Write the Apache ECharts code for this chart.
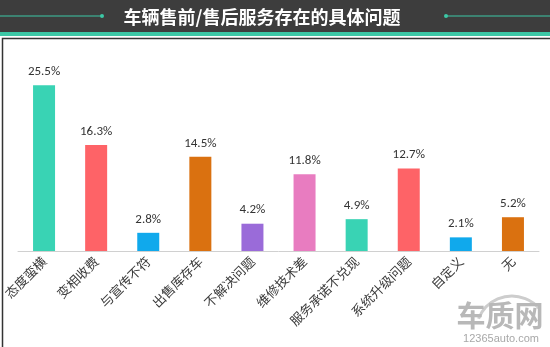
<!DOCTYPE html>
<html>
<head>
<meta charset="utf-8">
<script src="https://cdn.jsdelivr.net/npm/echarts@6/dist/echarts.min.js"></script>
<style>
  html, body { margin: 0; padding: 0; background: #fff; }
  #chart { width: 550px; height: 347px; }
</style>
</head>
<body>
<div id="chart"></div>
<script>
// Problems reported with pre-sale / after-sale service (share of complaints, %)
const categories = ['态度蛮横', '变相收费', '与宣传不符', '出售库存车', '不解决问题', '维修技术差', '服务承诺不兑现', '系统升级问题', '自定义', '无'];
const shares = [25.5, 16.3, 2.8, 14.5, 4.2, 11.8, 4.9, 12.7, 2.1, 5.2];
const barColors = ['#39d3b4', '#fe6367', '#10a9ec', '#da7110', '#9a6bd9', '#e87cc0', '#39d3b4', '#fe6367', '#10a9ec', '#da7110'];
const titleText = '车辆售前/售后服务存在的具体问题';

const chart = echarts.init(document.getElementById('chart'), null, { renderer: 'canvas' });

const teal = '#3cc8a6';

chart.setOption({
  animation: false,
  backgroundColor: '#fff',
  grid: { left: 18, right: 11, top: 60, bottom: 96, containLabel: false },
  xAxis: {
    type: 'category',
    data: categories,
    axisLine: { lineStyle: { color: '#d0d0d0', width: 1 } },
    axisTick: { show: false },
    axisLabel: {
      rotate: 45,
      interval: 0,
      margin: 8,
      fontSize: 13,
      color: '#3a3a3a',
      fontFamily: 'Noto Sans CJK SC'
    }
  },
  yAxis: {
    type: 'value',
    min: 0,
    max: 29.4,
    show: false,
    splitLine: { show: false }
  },
  series: [{
    type: 'bar',
    barWidth: 22,
    data: shares.map((v, i) => ({ value: v, itemStyle: { color: barColors[i] } })),
    label: {
      show: true,
      position: 'top',
      distance: 7,
      formatter: p => p.value.toFixed(1) + '%',
      fontSize: 13,
      color: '#333',
      fontFamily: 'Carlito, "Open Sans", sans-serif'
    }
  }],
  graphic: [
    // header band
    { type: 'rect', left: 0, top: 0, shape: { width: 550, height: 32 }, style: { fill: '#3d3d3d' }, z: 1 },
    { type: 'rect', left: 0, top: 32, shape: { width: 550, height: 4 }, style: { fill: teal }, z: 1 },
    // decorative rules beside the heading
    { type: 'line', shape: { x1: 0, y1: 16, x2: 101, y2: 16 }, style: { stroke: teal, lineWidth: 1.2 }, z: 2 },
    { type: 'circle', shape: { cx: 102, cy: 16, r: 2 }, style: { fill: teal }, z: 2 },
    { type: 'line', shape: { x1: 447, y1: 16, x2: 550, y2: 16 }, style: { stroke: teal, lineWidth: 1.2 }, z: 2 },
    { type: 'circle', shape: { cx: 446, cy: 16, r: 2 }, style: { fill: teal }, z: 2 },
    {
      type: 'text', x: 262, y: 17, z: 3,
      style: {
        text: titleText, fill: '#fff', fontSize: 18, fontWeight: 'bold',
        fontFamily: 'Noto Sans CJK SC', align: 'center', verticalAlign: 'middle'
      }
    },
    // frame
    { type: 'rect', left: 0, top: 36, shape: { width: 549, height: 310 }, style: { fill: 'none', stroke: '#333', lineWidth: 1.5 }, z: 2 },
    // site mark
    {
      type: 'arc', z: 2,
      shape: { cx: 512, cy: 332, r: 36, startAngle: Math.PI * 1.12, endAngle: Math.PI * 1.78 },
      style: { stroke: '#cdcdcd', lineWidth: 3, fill: null }
    },
    {
      type: 'text', x: 500, y: 316, z: 3,
      style: {
        text: '车质网', fill: '#b8b8b8', fontSize: 29, fontWeight: 'bold',
        fontFamily: 'Noto Sans CJK SC', align: 'center', verticalAlign: 'middle'
      }
    },
    {
      type: 'text', x: 501, y: 339, z: 3,
      style: {
        text: '12365auto.com', fill: '#a8a8a8', fontSize: 11,
        fontFamily: '"Liberation Sans", sans-serif', align: 'center', verticalAlign: 'middle'
      }
    }
  ]
});
</script>
</body>
</html>
